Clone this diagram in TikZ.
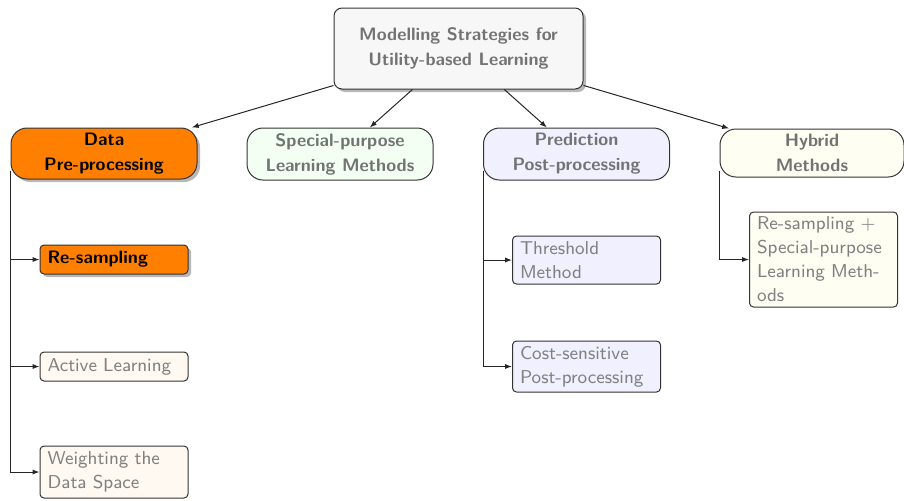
\documentclass[tikz,border=0pt]{standalone}
\usepackage{fontspec}
\usetikzlibrary{shadows,arrows.meta}
\begin{document}
\begin{tikzpicture}[x=0.5pt,y=-0.5pt,
  base/.style={draw=black!80,line width=0.5pt,font=\sffamily\fontsize{9}{12.5}\selectfont},
  shad/.style={drop shadow={shadow xshift=1.5pt,shadow yshift=-1.5pt,fill=black!35,opacity=0.8}},
  topbox/.style={base,rounded corners=8pt,minimum width=93pt,minimum height=25.5pt,align=center,font=\sffamily\bfseries\fontsize{9}{12.5}\selectfont,text=black!55,inner sep=1pt},
  leaf/.style={base,rounded corners=2pt,text width=66.5pt,inner xsep=3.75pt,inner ysep=1pt,align=left,font=\sffamily\fontsize{9.3}{12}\selectfont,text=black!50},
  arr/.style={-{Latex[length=3.5pt,width=2.6pt]},line width=0.5pt,black!85}]
\useasboundingbox (0,0) rectangle (904,500);

\node[topbox,shad,fill=black!3,rounded corners=4pt,minimum width=124.5pt,minimum height=40.5pt] (root) at (458.5,48.5) {Modelling Strategies for\\Utility-based Learning};

\node[topbox,shad,fill=orange,text=black] (data) at (104,153.5) {Data\\Pre-processing};
\node[topbox,fill=green!5,minimum height=26pt] (spec) at (340,154) {Special-purpose\\Learning Methods};
\node[topbox,fill=blue!6,minimum height=26pt] (pred) at (576.5,154) {Prediction\\Post-processing};
\node[topbox,fill=yellow!5,minimum width=92pt,minimum height=24pt] (hyb) at (812,153) {Hybrid\\Methods};

\foreach \c in {data,spec,pred,hyb} \draw[arr] (root) -- (\c);

\node[leaf,shad,fill=orange,text=black,font=\sffamily\bfseries\fontsize{9}{12}\selectfont,minimum height=14.5pt] (rs) at (114,259.5) {Re-sampling};
\node[leaf,fill=orange!5,minimum height=14.5pt] (al) at (114,366.5) {Active Learning};
\node[leaf,fill=orange!5,minimum height=26pt] (wd) at (114,472) {Weighting the\\Data Space};

\node[leaf,fill=blue!6,minimum height=24pt] (th) at (586.5,260) {Threshold\\Method};
\node[leaf,fill=blue!6,minimum height=25.5pt] (cs) at (586.5,366.5) {Cost-sensitive\\Post-processing};

\node[leaf,fill=yellow!5,minimum height=47.5pt] (rsp) at (823.5,259.5) {Re-sampling +\\Special-purpose\\Learning Meth-\\ods};

\draw[arr] ([yshift=4.5pt]data.south west) |- (rs.west);
\draw[arr] ([yshift=4.5pt]data.south west) |- (al.west);
\draw[arr] ([yshift=4.5pt]data.south west) |- (wd.west);
\draw[arr] ([yshift=5pt]pred.south west) |- (th.west);
\draw[arr] ([yshift=5pt]pred.south west) |- (cs.west);
\draw[arr] ([yshift=3.5pt]hyb.south west) |- (rsp.west);
\end{tikzpicture}
\end{document}
